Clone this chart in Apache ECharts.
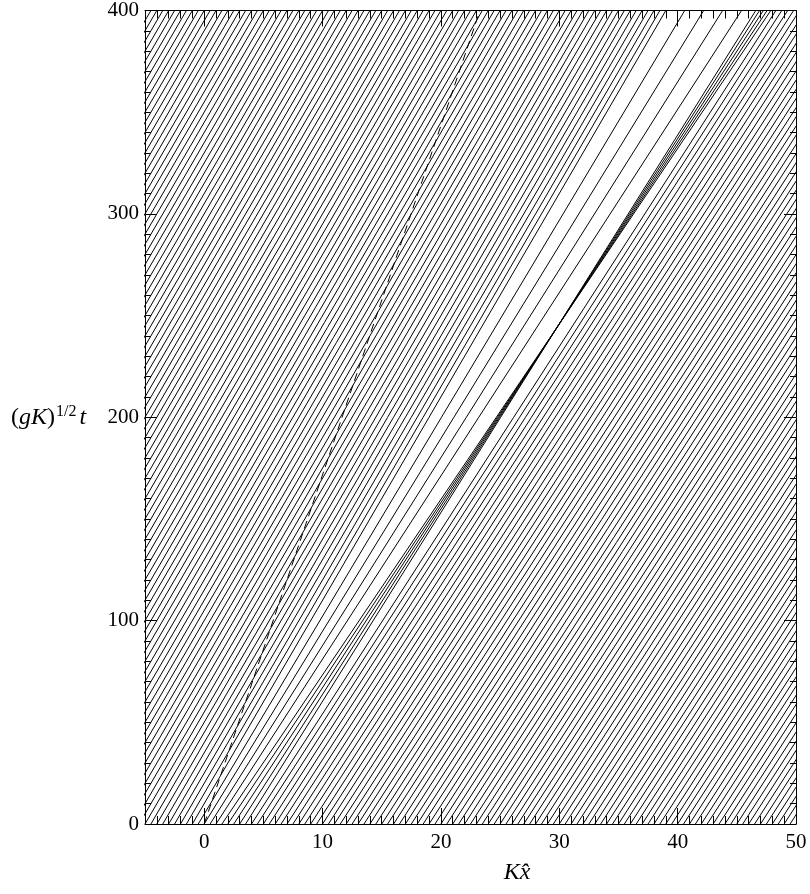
<!DOCTYPE html>
<html><head><meta charset="utf-8">
<script src="https://cdn.jsdelivr.net/npm/echarts@6/dist/echarts.min.js"></script>
<style>html,body{margin:0;padding:0;background:#fff}#c{width:810px;height:894px}</style>
</head><body><div id="c"></div>
<script>
// ---- data (x = K x-hat, t = (gK)^1/2 t) : each ray = position at t=0 and at t=400 ----
const T_START = 0, T_END = 400;
// background rays left of the packet
const leftHatchStart = [-44.5,-44,-43.5,-43,-42.5,-42,-41.5,-41,-40.5,-40,-39.5,-39,-38.5,-38,-37.5,-37,-36.5,-36,-35.5,-35,-34.5,-34,-33.5,-33,-32.5,-32,-31.5,-31,-30.5,-30,-29.5,-29,-28.5,-28,-27.5,-27,-26.5,-26,-25.5,-25,-24.5,-24,-23.5,-23,-22.5,-22,-21.5,-21,-20.5,-20,-19.5,-19,-18.5,-18,-17.5,-17,-16.5,-16,-15.5,-15,-14.5,-14,-13.5,-13,-12.5,-12,-11.5,-11,-10.5,-10,-9.5,-9,-8.5,-8,-7.5,-7,-6.5,-6,-5.5,-5,-4.5,-4,-3.5,-3,-2.5,-2,-1.5,-1];
const leftHatchEnd = [-4.5,-4,-3.5,-3,-2.5,-2,-1.5,-1,-0.5,0,0.5,1,1.5,2,2.5,3,3.5,4,4.5,5,5.5,6,6.5,7,7.5,8,8.5,9,9.5,10,10.5,11,11.5,12,12.5,13,13.5,14,14.5,15,15.5,16,16.5,17,17.5,18,18.5,19,19.5,20,20.5,21,21.5,22,22.5,23,23.5,24,24.5,25,25.5,26,26.5,27,27.5,28,28.5,29,29.5,30,30.5,31,31.5,32,32.5,33,33.5,34,34.5,35,35.5,36,36.5,37,37.5,38,38.5,39];
// spreading rays inside the packet
const fanStart = [-0.5,0,0.5,1];
const fanEnd   = [40.6,42.2,43.8,45.4];
// converging rays (caustic bundle)
const bundleStart = [1.5,2,2.5,3,3.5];
const bundleEnd   = [47.87,47.56,47.24,46.92,46.6];
// background rays right of the packet
const rightHatchStart = [4,4.5,5,5.5,6,6.5,7,7.5,8,8.5,9,9.5,10,10.5,11,11.5,12,12.5,13,13.5,14,14.5,15,15.5,16,16.5,17,17.5,18,18.5,19,19.5,20,20.5,21,21.5,22,22.5,23,23.5,24,24.5,25,25.5,26,26.5,27,27.5,28,28.5,29,29.5,30,30.5,31,31.5,32,32.5,33,33.5,34,34.5,35,35.5,36,36.5,37,37.5,38,38.5,39,39.5,40,40.5,41,41.5,42,42.5,43,43.5,44,44.5,45,45.5,46,46.5,47,47.5,48,48.5,49,49.5,50];
const rightHatchEnd = [48.3,48.8,49.3,49.8,50.3,50.8,51.3,51.8,52.3,52.8,53.3,53.8,54.3,54.8,55.3,55.8,56.3,56.8,57.3,57.8,58.3,58.8,59.3,59.8,60.3,60.8,61.3,61.8,62.3,62.8,63.3,63.8,64.3,64.8,65.3,65.8,66.3,66.8,67.3,67.8,68.3,68.8,69.3,69.8,70.3,70.8,71.3,71.8,72.3,72.8,73.3,73.8,74.3,74.8,75.3,75.8,76.3,76.8,77.3,77.8,78.3,78.8,79.3,79.8,80.3,80.8,81.3,81.8,82.3,82.8,83.3,83.8,84.3,84.8,85.3,85.8,86.3,86.8,87.3,87.8,88.3,88.8,89.3,89.8,90.3,90.8,91.3,91.8,92.3,92.8,93.3,93.8,94.3];
// dashed group line
const dashedX = [0, 23.3];
const dashedT = [0, 400];
// axes
const xMin = -5, xMax = 50, yMin = 0, yMax = 400;
const xMajorTicks = [0,10,20,30,40,50];
const xMinorTicks = [-4,-3,-2,-1,1,2,3,4,5,6,7,8,9,11,12,13,14,15,16,17,18,19,21,22,23,24,25,26,27,28,29,31,32,33,34,35,36,37,38,39,41,42,43,44,45,46,47,48,49];
const yTickStep = 100, yMinorSplit = 10;

// ---- chart ----
const FONT = "'Liberation Serif','Times New Roman',serif";
const chart = echarts.init(document.getElementById('c'), null, {renderer:'canvas'});
const series = [];
function addRays(starts, ends){
  for (let i=0;i<starts.length;i++){
    series.push({type:'line', xAxisIndex:0, yAxisIndex:0, data:[[starts[i],T_START],[ends[i],T_END]],
      symbol:'none', silent:true, clip:true, animation:false,
      lineStyle:{color:'#000', width:1}});
  }
}
addRays(leftHatchStart,leftHatchEnd);
addRays(fanStart,fanEnd);
addRays(bundleStart,bundleEnd);
addRays(rightHatchStart,rightHatchEnd);
series.push({type:'line', xAxisIndex:0, yAxisIndex:0,
  data: dashedX.map((x,i)=>[x,dashedT[i]]), symbol:'none', silent:true, clip:true, animation:false,
  lineStyle:{color:'#000', width:1, type:[8,5]}});

const lineStyleAx = {show:true, onZero:false, lineStyle:{color:'#000', width:1}};
function xAx(pos, major, labels){
  return {type:'value', position:pos, min:xMin, max:xMax, gridIndex:0,
    interval: major ? undefined : 1,
    axisLine: major ? lineStyleAx : {show:false, onZero:false},
    axisTick: major ? {show:true, inside:true, length:16, customValues:xMajorTicks, lineStyle:{color:'#000'}}
                    : {show:true, inside:true, length:8, customValues:xMinorTicks, lineStyle:{color:'#000'}},
    axisLabel: labels ? {show:true, customValues:xMajorTicks, color:'#000', fontFamily:FONT, fontSize:21, margin:8} : {show:false},
    splitLine:{show:false}, minorTick:{show:false}};
}
function yAx(pos, labels){
  return {type:'value', position:pos, min:yMin, max:yMax, interval:yTickStep, gridIndex:0,
    axisLine: lineStyleAx,
    axisTick:{show:true, inside:true, length:12, lineStyle:{color:'#000'}},
    minorTick:{show:true, splitNumber:yMinorSplit, length:6, lineStyle:{color:'#000'}},
    axisLabel: labels ? {show:true, color:'#000', fontFamily:FONT, fontSize:21, margin:6} : {show:false},
    splitLine:{show:false}, minorSplitLine:{show:false}};
}
chart.setOption({
  animation:false,
  backgroundColor:'#fff',
  grid:{left:145, top:10, width:651, height:814, containLabel:false},
  xAxis:[xAx('bottom',true,true), xAx('bottom',false,false), xAx('top',true,false), xAx('top',false,false)],
  yAxis:[yAx('left',true), yAx('right',false)],
  series: series,
  graphic:[
    {type:'text', x:11, y:418, silent:true, style:{
      text:'{p|(}{i|gK}{p|)}{s|1/2}{i|t}', textVerticalAlign:'middle', textAlign:'left',
      rich:{
        p:{fontFamily:FONT, fontSize:24, fill:'#000', lineHeight:28},
        i:{fontFamily:FONT, fontSize:24, fontStyle:'italic', fill:'#000', lineHeight:28},
        s:{fontFamily:FONT, fontSize:16, fill:'#000', lineHeight:28, verticalAlign:'top', padding:[0,3,10,1]}
      }}},
    {type:'text', x:517, y:873, silent:true, style:{
      text:'Kx\u0302', font:"italic 24px 'Liberation Serif'", fill:'#000', textAlign:'center', textVerticalAlign:'middle'}}
  ]
});
</script></body></html>
